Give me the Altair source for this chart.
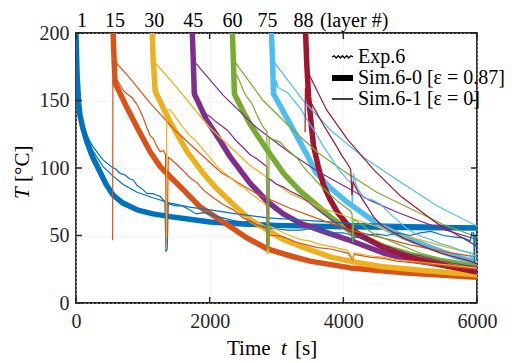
import altair as alt
import pandas as pd

# ---- layer info ----
layer_names = ["1", "15", "30", "45", "60", "75", "88"]
layer_colors = ["#0072BD", "#D95319", "#EDB120", "#7E2F8E", "#77AC30", "#4DBEEE", "#A2142F"]
layer_label_t = [90, 585, 1170, 1755, 2340, 2865, 3405]

x_ticks = [0, 2000, 4000, 6000]
y_ticks = [0, 50, 100, 150, 200]

# ---- Sim.6-0 (eps = 0.87), thick ----
sim0_1 = [(0, 200), (15, 170), (40, 148), (60, 139), (100, 130), (165, 119), (250, 108), (360, 97), (450, 88),
          (555, 80), (700, 74), (915, 69), (1150, 66), (1410, 64), (1700, 62), (2010, 60), (2500, 58.5),
          (3000, 57.5), (4000, 56.5), (5000, 56), (6000, 55.5)]
sim0_15 = [(555, 200), (570, 180), (585, 163), (750, 146), (915, 130), (1110, 112), (1260, 101), (1440, 92),
           (1605, 84), (1860, 71), (2115, 63), (2565, 48), (2865, 40), (3200, 35), (3500, 31), (4110, 26),
           (5000, 22), (6000, 19)]
sim0_30 = [(1140, 200), (1155, 180), (1185, 157), (1300, 145), (1410, 134), (1665, 112), (1905, 96), (2100, 85),
           (2355, 73), (2600, 62), (2865, 54), (3100, 47), (3360, 42), (3810, 34), (4200, 30), (4560, 27),
           (5200, 24), (6000, 21)]
sim0_45 = [(1740, 200), (1755, 180), (1770, 155), (1950, 136), (2160, 120), (2310, 108), (2600, 89), (2865, 75),
           (3100, 66), (3360, 59), (3700, 53), (4065, 47), (4600, 37), (5000, 32), (5500, 28), (6000, 24)]
sim0_60 = [(2340, 200), (2355, 180), (2370, 155), (2500, 142), (2610, 132), (2865, 113), (3105, 96), (3350, 83),
           (3615, 72), (3850, 62), (4110, 53), (4600, 42), (5000, 36), (5500, 31), (6000, 27)]
sim0_75 = [(2925, 200), (2940, 180), (2955, 155), (3100, 142), (3210, 132), (3465, 109), (3585, 97), (3810, 85),
           (4050, 75), (4305, 66), (4560, 57), (4900, 49), (5310, 41), (5650, 35), (6000, 30)]
sim0_88 = [(3435, 200), (3455, 175), (3480, 153), (3520, 132), (3555, 116), (3630, 100), (3705, 87), (3800, 77),
           (3915, 67), (4110, 55), (4300, 49), (4560, 42), (5055, 33), (5500, 28), (6000, 23)]

# ---- Sim.6-1 (eps = 0), thin ----
sim1_1 = [(0, 200), (20, 165), (60, 140), (120, 127), (250, 113), (405, 101), (555, 94), (700, 88), (915, 82),
          (1150, 78), (1410, 74), (1700, 71), (2010, 69), (2400, 66), (2865, 63), (3500, 61), (4110, 59),
          (5000, 58), (6000, 57)]
sim1_15 = [(555, 200), (585, 180), (600, 178), (800, 167), (1110, 148), (1500, 127), (2160, 97), (2700, 81),
           (3210, 70), (3700, 61), (4110, 54), (4600, 48), (5000, 43), (5500, 38), (6000, 34)]
sim1_30 = [(1140, 200), (1170, 180), (1185, 178), (1500, 160), (2000, 130), (2600, 102), (3210, 81), (3700, 70),
           (4110, 63), (4600, 55), (5000, 49), (5500, 42), (6000, 36)]
sim1_45 = [(1740, 200), (1770, 180), (1785, 178), (2200, 154), (2700, 130), (3210, 111), (3600, 98), (4000, 87),
           (4400, 76), (4815, 67), (5400, 56), (6000, 47)]
sim1_60 = [(2340, 200), (2370, 180), (2385, 178), (2800, 150), (3210, 130), (3600, 112), (4000, 98), (4500, 82),
           (5000, 70), (5500, 58), (6000, 49)]
sim1_75 = [(2925, 200), (2955, 180), (2970, 178), (3400, 150), (3810, 128), (4300, 108), (4815, 91), (5400, 72),
           (6000, 57)]
sim1_88 = [(3435, 200), (3460, 178), (3480, 170), (3750, 143), (4065, 121), (4450, 99), (4860, 79), (5400, 59),
           (6000, 42)]

# ---- Exp.6, noisy ----
exp_1 = [(0, 200), (60, 139), (120, 128), (250, 116), (405, 106), (530, 101), (600, 99), (660, 96), (730, 95),
         (800, 92), (860, 91), (915, 87), (1000, 84), (1065, 81), (1150, 81), (1200, 80), (1260, 79), (1330, 75),
         (1345, 38), (1365, 40), (1380, 74), (1410, 73), (1500, 72), (1580, 72), (1665, 70), (1800, 66),
         (1900, 67), (2010, 66), (2100, 64), (2200, 63), (2355, 61), (2500, 60), (2600, 61), (2700, 58),
         (2850, 56), (2860, 38), (2880, 40), (2890, 55), (3000, 55), (3150, 54), (3360, 54), (3500, 55),
         (3600, 54), (3810, 52), (4000, 52), (4130, 50), (4140, 44), (4160, 48), (4300, 50), (4500, 51),
         (4650, 50), (4815, 52), (5000, 50), (5150, 52), (5310, 53), (5500, 50), (5650, 49), (5805, 48),
         (5900, 46), (5920, 52), (5950, 52), (5960, 30), (5975, 50), (6000, 50)]
exp_15 = [(540, 47), (548, 47), (552, 165), (570, 168), (630, 164), (700, 158), (760, 155), (840, 152),
          (915, 147), (1000, 138), (1060, 130), (1110, 124), (1155, 122), (1210, 116), (1260, 112), (1305, 113),
          (1340, 110), (1350, 47), (1365, 50), (1380, 108), (1410, 107), (1500, 103), (1605, 98), (1700, 93),
          (1815, 89), (1900, 84), (2000, 80), (2115, 76), (2200, 73), (2355, 69), (2500, 63), (2600, 61),
          (2700, 58), (2850, 55), (2860, 40), (2885, 42), (2895, 50), (3000, 50), (3105, 49), (3300, 45),
          (3450, 43), (3615, 41), (3810, 40), (4065, 37), (4140, 32), (4160, 36), (4400, 34), (4600, 33),
          (4800, 31), (5000, 30), (5200, 29), (5400, 28), (5600, 27), (5800, 26), (6000, 25)]
exp_30 = [(1345, 40), (1352, 40), (1358, 143), (1410, 143), (1460, 140), (1500, 137), (1560, 133), (1605, 130),
          (1700, 124), (1780, 121), (1860, 116), (1930, 112), (2000, 108), (2115, 101), (2200, 97), (2310, 93),
          (2450, 87), (2530, 85), (2610, 81), (2700, 78), (2805, 74), (2855, 72), (2862, 36), (2880, 38),
          (2890, 57), (2940, 56), (3100, 52), (3200, 50), (3360, 47), (3500, 46), (3600, 44), (3800, 42),
          (4065, 39), (4140, 33), (4160, 37), (4400, 35), (4600, 34), (4800, 32), (5000, 31), (5200, 30),
          (5400, 29), (5600, 28), (5800, 27), (6000, 26)]
exp_45 = [(1770, 155), (1860, 145), (1940, 140), (2010, 138), (2100, 134), (2265, 128), (2400, 120),
          (2505, 115), (2600, 110), (2700, 107), (2805, 103), (2855, 101), (2862, 40), (2880, 42), (2890, 92),
          (3000, 88), (3100, 86), (3200, 83), (3360, 79), (3500, 74), (3615, 69), (3700, 66), (3810, 62),
          (3950, 57), (4065, 54), (4130, 52), (4140, 44), (4160, 50), (4300, 47), (4400, 45), (4550, 42),
          (4700, 40), (4850, 38), (5000, 36), (5150, 35), (5300, 33), (5450, 31), (5600, 30), (5800, 28),
          (6000, 27)]
exp_60 = [(2370, 170), (2415, 168), (2460, 163), (2500, 158), (2550, 153), (2600, 150), (2650, 146), (2700, 140),
          (2760, 134), (2805, 130), (2855, 127), (2862, 40), (2880, 42), (2890, 122), (2960, 121), (3060, 119),
          (3130, 115), (3200, 112), (3315, 107), (3400, 101), (3450, 98), (3530, 94), (3600, 90), (3700, 85),
          (3810, 80), (3900, 76), (4000, 72), (4110, 68), (4130, 66), (4140, 45), (4160, 62), (4300, 57),
          (4400, 53), (4500, 50), (4650, 47), (4800, 44), (5000, 40), (5150, 37), (5300, 35), (5450, 33),
          (5600, 32), (5800, 30), (6000, 29)]
exp_75 = [(2985, 158), (3000, 165), (3015, 160), (3080, 158), (3165, 156), (3260, 150), (3360, 144),
          (3480, 134), (3600, 125), (3700, 116), (3810, 108), (3930, 99), (4065, 91), (4120, 89), (4135, 72),
          (4150, 96), (4200, 86), (4305, 78), (4380, 77), (4450, 76), (4560, 73), (4700, 66), (4815, 61),
          (4930, 56), (5055, 52), (5180, 49), (5310, 47), (5450, 44), (5600, 42), (5750, 39), (5900, 37),
          (5920, 30), (5940, 36), (6000, 34)]
exp_88 = [(3420, 127), (3428, 127), (3432, 159), (3500, 150), (3600, 141), (3700, 132), (3800, 124),
          (3900, 116), (3980, 109), (4065, 103), (4110, 99), (4130, 80), (4145, 90), (4200, 84), (4270, 78),
          (4350, 72), (4450, 64), (4560, 58), (4680, 54), (4800, 51), (4900, 48), (5000, 46), (5150, 43),
          (5300, 40), (5450, 37), (5600, 35), (5750, 33), (5900, 31), (6000, 29)]

sim0_all = [sim0_1, sim0_15, sim0_30, sim0_45, sim0_60, sim0_75, sim0_88]
sim1_all = [sim1_1, sim1_15, sim1_30, sim1_45, sim1_60, sim1_75, sim1_88]
exp_all = [exp_1, exp_15, exp_30, exp_45, exp_60, exp_75, exp_88]


def frame(series_list):
    rows = []
    for name, pts in zip(layer_names, series_list):
        for i, (t, T) in enumerate(pts):
            rows.append({"t": t, "T": T, "layer": name, "i": i})
    return pd.DataFrame(rows)


df_sim0 = frame(sim0_all)
df_sim1 = frame(sim1_all)
df_exp = frame(exp_all)

FONT = "Liberation Serif, DejaVu Serif, serif"
FS = 20

xscale = alt.Scale(domain=[0, 6000], nice=False, zero=False)
yscale = alt.Scale(domain=[0, 200], nice=False, zero=False)
xaxis = alt.Axis(values=x_ticks, format="d", title=None, grid=True, ticks=False, domain=False, labelFont=FONT,
                 labelFontSize=FS, labelPadding=8, labelColor="#262626", gridColor="#d9d9d9",
                 gridDash=[1, 3], labelFlush=False)
yaxis = alt.Axis(values=y_ticks, format="d", title=None, grid=True, ticks=False, domain=False, labelFont=FONT,
                 labelFontSize=FS, labelPadding=7, labelColor="#262626", gridColor="#d9d9d9",
                 gridDash=[1, 3])
X = alt.X("t:Q", scale=xscale, axis=xaxis)
Y = alt.Y("T:Q", scale=yscale, axis=yaxis)
col = alt.Color("layer:N", scale=alt.Scale(domain=layer_names, range=layer_colors), legend=None)

thick = alt.Chart(df_sim0).mark_line(strokeWidth=5.5, clip=True, strokeJoin="round").encode(
    x=X, y=Y, color=col, detail="layer:N", order="i:Q")
thin = alt.Chart(df_sim1).mark_line(strokeWidth=1.2, clip=True).encode(
    x=X, y=Y, color=col, detail="layer:N", order="i:Q")
expl = alt.Chart(df_exp).mark_line(strokeWidth=1.2, clip=True).encode(
    x=X, y=Y, color=col, detail="layer:N", order="i:Q")

# inward tick marks
df_xt = pd.DataFrame({"t": x_ticks})
df_yt = pd.DataFrame({"T": y_ticks})
tick_b = alt.Chart(df_xt).mark_rule(color="#262626", strokeWidth=1.5).encode(
    x=X, y=alt.value(270), y2=alt.value(264))
tick_t = alt.Chart(df_xt).mark_rule(color="#262626", strokeWidth=1.5).encode(
    x=X, y=alt.value(0), y2=alt.value(6))
tick_l = alt.Chart(df_yt).mark_rule(color="#262626", strokeWidth=1.5).encode(
    y=Y, x=alt.value(0), x2=alt.value(6))
tick_r = alt.Chart(df_yt).mark_rule(color="#262626", strokeWidth=1.5).encode(
    y=Y, x=alt.value(401), x2=alt.value(395))

# top layer labels
df_top = pd.DataFrame({"t": layer_label_t, "lab": layer_names})
top_lab = alt.Chart(df_top).mark_text(font=FONT, fontSize=FS, baseline="alphabetic", align="center",
                                      color="black").encode(x=X, y=alt.value(-6), text="lab:N")
top_unit = alt.Chart(pd.DataFrame({"lab": ["(layer #)"]})).mark_text(
    font=FONT, fontSize=FS, baseline="alphabetic", align="left", color="black").encode(
    x=alt.value(244), y=alt.value(-6), text="lab:N")


def txt(s, x, y, italic=False, angle=0, align="left", baseline="alphabetic", size=FS + 1):
    kw = dict(font=FONT, fontSize=size, align=align, baseline=baseline, color="black")
    if italic:
        kw["fontStyle"] = "italic"
    if angle:
        kw["angle"] = angle
    return alt.Chart(pd.DataFrame({"lab": [s]})).mark_text(**kw).encode(
        x=alt.value(x), y=alt.value(y), text="lab:N")


# axis titles
xt1 = txt("Time", 151, 322)
xt2 = txt("t", 205, 322, italic=True)
xt3 = txt("[s]", 219, 322)
yt1 = txt("T", -53, 166, italic=True, angle=270, baseline="middle")
yt2 = txt("[°C]", -53, 149, angle=270, baseline="middle")

# legend (manual)
lg1 = txt("Exp.6", 282, 24, baseline="middle", size=FS)
lg2 = txt("Sim.6-0 [ε = 0.87]", 282, 45, baseline="middle", size=FS)
lg3 = txt("Sim.6-1 [ε = 0]", 282, 66, baseline="middle", size=FS)
wave = alt.Chart(pd.DataFrame({"k": [0]})).mark_point(
    shape="M-1,0 L-0.8,-0.12 L-0.6,0.1 L-0.4,-0.12 L-0.2,0.1 L0,-0.12 L0.2,0.1 L0.4,-0.12 L0.6,0.1 L0.8,-0.12 L1,0",
    filled=False, stroke="black", strokeWidth=1.3, size=441, opacity=1).encode(
    x=alt.value(266.5), y=alt.value(24))
leg_thick = alt.Chart(pd.DataFrame({"k": [0]})).mark_rule(color="black", strokeWidth=6).encode(
    x=alt.value(256), x2=alt.value(277), y=alt.value(45))
leg_thin = alt.Chart(pd.DataFrame({"k": [0]})).mark_rule(color="black", strokeWidth=1.5).encode(
    x=alt.value(256), x2=alt.value(277), y=alt.value(66))

chart = alt.layer(
    thick, thin, expl, tick_b, tick_t, tick_l, tick_r, top_lab, top_unit,
    xt1, xt2, xt3, yt1, yt2, lg1, lg2, lg3, wave, leg_thick, leg_thin
).properties(
    width=401, height=270,
    padding={"left": 76, "top": 33, "right": 47, "bottom": 60},
    autosize=alt.AutoSizeParams(type="none"),
    background="white",
).configure_view(stroke="#262626", strokeWidth=1.8)

chart.save("out.html", embed_options={"renderer": "svg", "actions": False})
